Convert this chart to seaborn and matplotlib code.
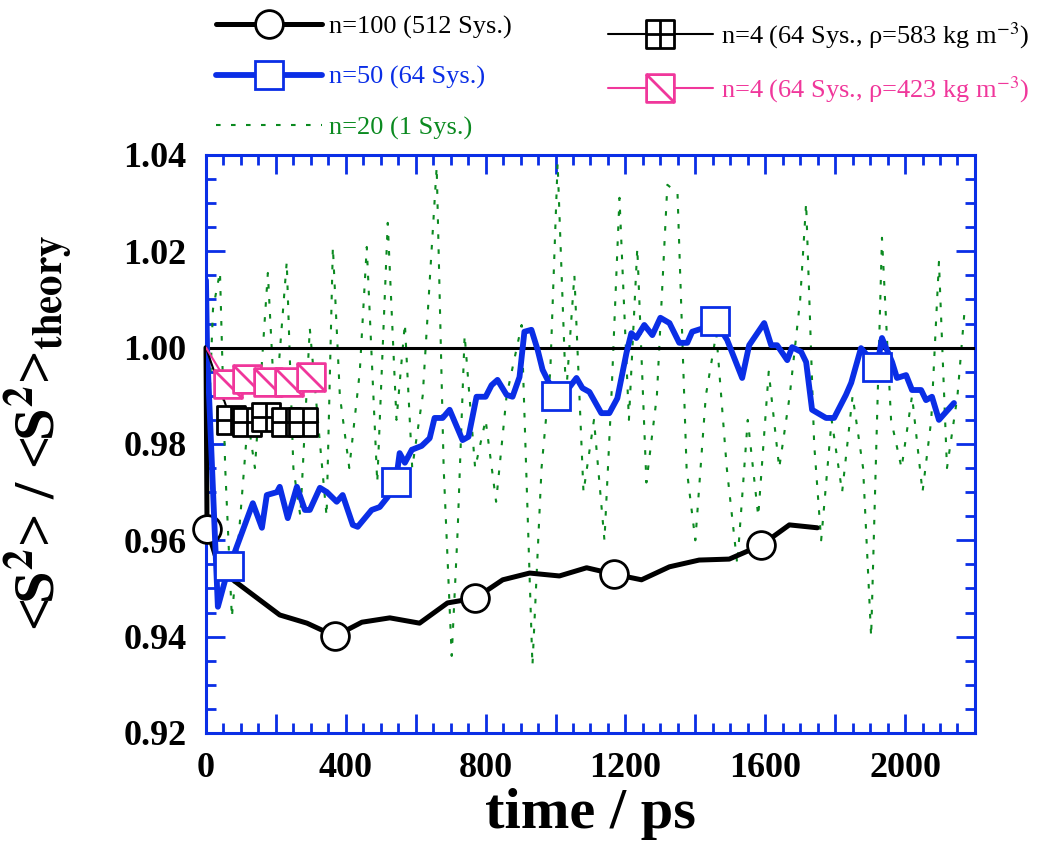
import numpy as np
import pandas as pd
import matplotlib
matplotlib.use("Agg")
import matplotlib.pyplot as plt
from matplotlib.path import Path
from matplotlib.ticker import MultipleLocator, FuncFormatter
import seaborn as sns

# ---------------- data ----------------
# n=100 (512 Sys.)
t_n100 = [0, 3, 26, 77, 211, 289, 369, 446, 526, 611, 691, 771, 849, 926, 1011,
          1089, 1166, 1246, 1326, 1411, 1497, 1589, 1669, 1749]
v_n100 = [1.000, 0.9624, 0.9570, 0.9518, 0.9445, 0.9428, 0.9401, 0.9430, 0.9439,
          0.9428, 0.9470, 0.9480, 0.9518, 0.9532, 0.9526, 0.9543, 0.9530, 0.9518,
          0.9545, 0.9559, 0.9561, 0.9590, 0.9632, 0.9626]
mark_n100 = [1, 6, 11, 16, 21]

# n=50 (64 Sys.)
t_n50 = [0, 3, 34, 66, 77, 134, 160, 174, 203, 211, 234, 260, 283, 297, 326, 346,
         374, 391, 420, 434, 474, 497, 520, 543, 554, 569, 589, 617, 640, 654, 677,
         697, 734, 751, 774, 800, 817, 834, 860, 877, 897, 911, 931, 949, 963, 1000,
         1040, 1060, 1077, 1097, 1131, 1154, 1177, 1203, 1217, 1231, 1254, 1277,
         1300, 1326, 1354, 1377, 1391, 1417, 1457, 1491, 1534, 1554, 1597, 1617,
         1634, 1663, 1677, 1703, 1717, 1734, 1774, 1797, 1831, 1846, 1874, 1920,
         1934, 1963, 1977, 2003, 2020, 2046, 2060, 2077, 2097, 2140]
v_n50 = [1.0140, 1.0000, 0.9462, 0.9547, 0.9565, 0.9677, 0.9626, 0.9694, 0.9700,
         0.9711, 0.9646, 0.9711, 0.9663, 0.9663, 0.9709, 0.9700, 0.9680, 0.9694,
         0.9632, 0.9628, 0.9663, 0.9669, 0.9690, 0.9721, 0.9781, 0.9761, 0.9788,
         0.9796, 0.9812, 0.9854, 0.9854, 0.9871, 0.9808, 0.9815, 0.9898, 0.9898,
         0.9922, 0.9933, 0.9902, 0.9898, 0.9939, 1.0033, 1.0037, 0.9995, 0.9954,
         0.9900, 0.9918, 0.9937, 0.9916, 0.9908, 0.9864, 0.9864, 0.9895, 0.9989,
         1.0030, 1.0020, 1.0047, 1.0026, 1.0062, 1.0051, 1.0010, 1.0010, 1.0033,
         1.0039, 1.0055, 1.0016, 0.9937, 1.0005, 1.0051, 1.0005, 1.0005, 0.9974,
         1.0001, 0.9991, 0.9970, 0.9871, 0.9854, 0.9854, 0.9902, 0.9927, 0.9999,
         0.9960, 1.0020, 0.9970, 0.9937, 0.9943, 0.9912, 0.9912, 0.9891, 0.9898,
         0.9850, 0.9885]
mark_n50 = [3, 23, 45, 64, 81]

# n=20 (1 Sys.)
t_n20 = [0, 8, 20, 40, 55, 74, 95, 120, 140, 177, 195, 210, 231, 250, 270, 297,
         320, 345, 363, 383, 410, 440, 460, 490, 520, 545, 569, 590, 620, 660, 680,
         703, 720, 740, 770, 800, 830, 860, 903, 934, 960, 985, 1006, 1030, 1054,
         1080, 1110, 1140, 1160, 1183, 1210, 1234, 1260, 1290, 1320, 1349, 1375,
         1400, 1430, 1460, 1490, 1520, 1550, 1580, 1610, 1640, 1670, 1700, 1717,
         1740, 1760, 1790, 1820, 1850, 1880, 1903, 1934, 1960, 1990, 2020, 2050,
         2075, 2097, 2120, 2150, 2170]
v_n20 = [1.000, 0.985, 1.008, 1.0157, 0.975, 0.944, 0.962, 0.985, 0.975, 1.0155,
         0.990, 0.998, 1.0178, 0.975, 0.965, 1.004, 0.985, 0.965, 1.0209, 0.990,
         0.975, 0.995, 1.0209, 0.972, 1.0259, 0.985, 1.005, 0.975, 0.990, 1.0375,
         0.975, 0.936, 0.962, 1.0026, 0.975, 0.985, 0.968, 0.990, 1.0047, 0.934,
         0.975, 0.995, 1.0383, 0.990, 1.015, 0.970, 0.985, 0.960, 0.990, 1.0311,
         0.985, 1.0207, 0.972, 0.990, 1.0338, 1.0321, 0.975, 0.960, 0.990, 1.003,
         0.975, 0.955, 0.985, 0.965, 0.995, 0.975, 0.990, 1.010, 1.0300, 0.980,
         0.960, 0.985, 0.970, 0.990, 0.975, 0.940, 1.0228, 0.985, 0.975, 0.990,
         0.970, 0.985, 1.0178, 0.975, 0.990, 1.0074]

# n=4 (64 Sys., rho=583)
t_n4a = [0, 71, 116, 171, 230, 277]
v_n4a = [1.000, 0.9850, 0.9846, 0.9856, 0.9846, 0.9846]

# n=4 (64 Sys., rho=423)
t_n4b = [0, 63, 117, 177, 237, 300]
v_n4b = [1.000, 0.9925, 0.9935, 0.9928, 0.9928, 0.9939]

labels = ["n=100 (512 Sys.)", "n=50 (64 Sys.)", "n=20 (1 Sys.)",
          r"n=4 (64 Sys., ρ=583 kg m$^{-3}$)", r"n=4 (64 Sys., ρ=423 kg m$^{-3}$)"]

# ---------------- style ----------------
sns.set_style("ticks")
plt.rcParams['font.family'] = ['Liberation Serif', 'DejaVu Serif']
plt.rcParams['mathtext.fontset'] = 'stix'
plt.rcParams['axes.labelcolor'] = 'black'
plt.rcParams['text.color'] = 'black'

BLUE = '#0a2ee6'
GREEN = '#0b8a20'
PINK = '#f0379b'
BLACK = '#000000'

# custom markers
plus_sq = Path([(-1, -1), (1, -1), (1, 1), (-1, 1), (-1, -1), (0, -1), (0, 1), (-1, 0), (1, 0)],
               [Path.MOVETO, Path.LINETO, Path.LINETO, Path.LINETO, Path.CLOSEPOLY,
                Path.MOVETO, Path.LINETO, Path.MOVETO, Path.LINETO])
diag_sq = Path([(-1, -1), (1, -1), (1, 1), (-1, 1), (-1, -1), (-1, 1), (1, -1)],
               [Path.MOVETO, Path.LINETO, Path.LINETO, Path.LINETO, Path.CLOSEPOLY,
                Path.MOVETO, Path.LINETO])

fig = plt.figure(figsize=(10.64, 8.43), dpi=100)
ax = fig.add_axes([0.1936, 0.1305, 0.7227, 0.6857])

common = dict(ax=ax, estimator=None, sort=False, legend=False)

sns.lineplot(x=t_n20, y=v_n20, color=GREEN, lw=1.5, linestyle=(0, (2.2, 5)),
             zorder=2, **common)
ax.axhline(1.0, color=BLACK, lw=2.2, zorder=3)
sns.lineplot(x=t_n100, y=v_n100, color=BLACK, lw=3.6, marker='o', ms=20, mew=2,
             mfc='white', mec=BLACK, markevery=mark_n100, zorder=4,
             clip_on=False, **common)
sns.lineplot(x=t_n50, y=v_n50, color=BLUE, lw=4.2, marker='s', ms=20, mew=2,
             mfc='white', mec=BLUE, markevery=mark_n50, zorder=5, **common)
sns.lineplot(x=t_n4a, y=v_n4a, color=BLACK, lw=1.5, marker=plus_sq, ms=20, mew=2,
             mfc='white', mec=BLACK, markevery=list(range(1, len(t_n4a))), zorder=6, **common)
sns.lineplot(x=t_n4b, y=v_n4b, color=PINK, lw=1.5, marker=diag_sq, ms=20, mew=2,
             mfc='white', mec=PINK, markevery=list(range(1, len(t_n4b))), zorder=7, **common)

ln_green, _, ln_100, ln_50, ln_4a, ln_4b = ax.lines[:6]

ax.set_xlim(0, 2200)
ax.set_ylim(0.92, 1.04)
ax.xaxis.set_major_locator(MultipleLocator(200))
ax.xaxis.set_minor_locator(MultipleLocator(50))
ax.xaxis.set_major_formatter(FuncFormatter(
    lambda v, p: f"{int(round(v))}" if int(round(v)) % 400 == 0 else ""))
ax.yaxis.set_major_locator(MultipleLocator(0.02))
ax.yaxis.set_minor_locator(MultipleLocator(0.005))
ax.yaxis.set_major_formatter(FuncFormatter(lambda v, p: f"{v:.2f}"))

ax.tick_params(which='both', direction='in', top=True, right=True,
               color=BLUE, width=2)
ax.tick_params(which='major', length=14, labelsize=26, pad=14, labelcolor='black')
ax.tick_params(which='minor', length=7)
for s in ax.spines.values():
    s.set_color(BLUE)
    s.set_linewidth(2.2)
plt.setp(ax.get_xticklabels(), fontweight='bold')
plt.setp(ax.get_yticklabels(), fontweight='bold')

ax.set_xlabel("time / ps", fontsize=42, fontweight='bold', color='black')
ax.set_ylabel(r"<S$^{\mathbf{2}}$> / <S$^{\mathbf{2}}$>$_{\mathbf{theory}}$",
              fontsize=42, fontweight='bold', color='black')
ax.xaxis.set_label_coords(0.5, -0.095)
ax.yaxis.set_label_coords(-0.17, 0.52)

leg1 = fig.legend([ln_100, ln_50, ln_green], labels[:3], loc='upper left',
                  bbox_to_anchor=(0.203, 0.982), frameon=False, fontsize=19,
                  handlelength=4.0, handletextpad=0.3, labelspacing=1.0,
                  borderpad=0, borderaxespad=0, labelcolor='linecolor')
leg2 = fig.legend([ln_4a, ln_4b], labels[3:], loc='upper left',
                  bbox_to_anchor=(0.571, 0.976), frameon=False, fontsize=19,
                  handlelength=4.0, handletextpad=0.3, labelspacing=0.9,
                  borderpad=0, borderaxespad=0, labelcolor='linecolor')

fig.savefig("out.png", dpi=100)
